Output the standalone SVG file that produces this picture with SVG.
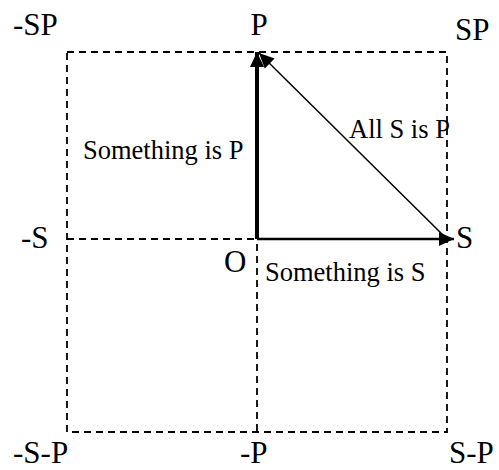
<svg xmlns="http://www.w3.org/2000/svg" width="499" height="470" viewBox="0 0 499 470">
<style>
.dash{fill:none;stroke:#000;stroke-width:1.8;stroke-dasharray:7,5}
.lbl{font-family:"Liberation Serif","Times New Roman",serif;font-size:31px;fill:#000}
.txt{font-family:"Liberation Serif","Times New Roman",serif;font-size:26.5px;fill:#000}
</style>
<defs>
<marker id="ah" markerUnits="userSpaceOnUse" markerWidth="20" markerHeight="20" refX="15" refY="7" orient="auto">
<path d="M0,0 L15,7 L0,14 Z" fill="#000"/>
</marker>
</defs>
<g id="grid">
<rect class="dash" x="67" y="52" width="380" height="380"/>
<line class="dash" x1="67" y1="239" x2="447" y2="239"/>
<line class="dash" x1="257" y1="52" x2="257" y2="432"/>
</g>
<g id="connectors">
<line x1="257" y1="239" x2="257" y2="52" stroke="#000" stroke-width="4" marker-end="url(#ah)"/>
<line x1="257" y1="239" x2="454" y2="239" stroke="#000" stroke-width="2.5" marker-end="url(#ah)"/>
<line x1="447" y1="239" x2="259" y2="53" stroke="#000" stroke-width="1.5" marker-end="url(#ah)"/>
</g>
<g id="labels">
<text class="lbl" x="13" y="35">-SP</text>
<text class="lbl" x="259" y="35" text-anchor="middle">P</text>
<text class="lbl" x="455" y="40">SP</text>
<text class="lbl" x="21" y="248">-S</text>
<text class="lbl" x="224" y="272">O</text>
<text class="lbl" x="456" y="248">S</text>
<text class="lbl" x="13" y="463">-S-P</text>
<text class="lbl" x="240" y="463">-P</text>
<text class="lbl" x="449" y="463">S-P</text>
<text class="txt" x="83" y="159">Something is P</text>
<text class="txt" x="349" y="138">All S is P</text>
<text class="txt" x="265" y="281">Something is S</text>
</g>
</svg>
